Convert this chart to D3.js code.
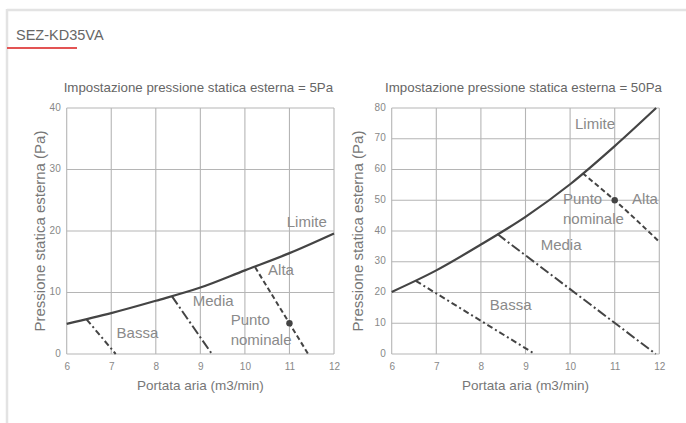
<!DOCTYPE html>
<html>
<head>
<meta charset="UTF-8">
<title>SEZ-KD35VA</title>
<script src="https://cdnjs.cloudflare.com/ajax/libs/d3/7.8.5/d3.min.js"></script>
<style>
  body { margin: 0; background: #fff; }
  svg { display: block; font-family: "Liberation Sans", Arial, sans-serif; }
</style>
</head>
<body>
<div id="chart"></div>
<script>
// Data
var xTicks = [6, 7, 8, 9, 10, 11, 12];
var leftYTicks = [0, 10, 20, 30, 40];
var rightYTicks = [0, 10, 20, 30, 40, 50, 60, 70, 80];

// 5Pa setting
var leftLimite = [[6, 4.9], [7, 6.65], [8, 8.65], [9, 10.8], [10, 13.6], [11, 16.4], [12, 19.6]];
var leftBassa = [[6.45, 5.6], [7.1, 0]];
var leftMedia = [[8.36, 9.4], [9.26, 0]];
var leftAlta = [[10.23, 14.1], [11.42, 0]];
var leftNominal = [11, 5];

// 50Pa setting
var rightLimite = [[6, 20.2], [7, 27.2], [8, 35.6], [9, 44.6], [10, 55.2], [11, 67.6], [11.93, 80]];
var rightBassa = [[6.54, 23.8], [9.21, 0]];
var rightMedia = [[8.37, 39], [11.92, 0]];
var rightAlta = [[10.28, 58.8], [11, 50], [12, 36.5]];
var rightNominal = [11, 50];

// annotations, in data units
var leftNotes = [
  ["Limite", 10.94, 20.7], ["Alta", 10.52, 12.9], ["Media", 8.83, 7.8],
  ["Punto", 9.68, 4.75], ["nominale", 9.68, 1.5], ["Bassa", 7.12, 2.65]
];
var rightNotes = [
  ["Limite", 10.11, 73.1], ["Punto", 9.84, 48.7], ["nominale", 9.84, 42.2],
  ["Alta", 11.39, 48.7], ["Media", 9.34, 33.8], ["Bassa", 8.2, 14.2]
];

var W = 686, H = 423;
var plotTop = 108, plotBottom = 354;

var svg = d3.select("#chart").append("svg")
  .attr("width", W)
  .attr("height", H);

// panel frame
svg.append("line").attr("x1", 7).attr("x2", W).attr("y1", 10).attr("y2", 10)
  .attr("stroke", "#e3e3e3").attr("stroke-width", 2.5);
svg.append("line").attr("x1", 7).attr("x2", 7).attr("y1", 9).attr("y2", H)
  .attr("stroke", "#e3e3e3").attr("stroke-width", 2.5);

svg.append("text")
  .attr("x", 16).attr("y", 40)
  .attr("font-size", "14.5px")
  .attr("fill", "#666")
  .text("SEZ-KD35VA");
svg.append("line").attr("x1", 7).attr("x2", 77).attr("y1", 48).attr("y2", 48)
  .attr("stroke", "#e35454").attr("stroke-width", 2);

drawPanel({
  left: 66.7, right: 334, yMax: 40, yTicks: leftYTicks,
  title: "Impostazione pressione statica esterna = 5Pa",
  ylabX: 40,
  limite: leftLimite, bassa: leftBassa, media: leftMedia, alta: leftAlta,
  nominal: leftNominal, notes: leftNotes
});

drawPanel({
  left: 391.7, right: 659.3, yMax: 80, yTicks: rightYTicks,
  title: "Impostazione pressione statica esterna = 50Pa",
  ylabX: 358,
  limite: rightLimite, bassa: rightBassa, media: rightMedia, alta: rightAlta,
  nominal: rightNominal, notes: rightNotes
});

function drawPanel(p) {
  var x = d3.scaleLinear().domain([6, 12]).range([p.left, p.right]);
  var y = d3.scaleLinear().domain([0, p.yMax]).range([plotBottom, plotTop]);
  var g = svg.append("g");

  // grid
  g.selectAll(".vgrid").data(xTicks).enter().append("line")
    .attr("x1", function(d) { return x(d); })
    .attr("x2", function(d) { return x(d); })
    .attr("y1", plotTop).attr("y2", plotBottom)
    .attr("stroke", "#b5b5b5").attr("stroke-width", 1.1);
  g.selectAll(".hgrid").data(p.yTicks).enter().append("line")
    .attr("x1", p.left).attr("x2", p.right)
    .attr("y1", function(d) { return y(d); })
    .attr("y2", function(d) { return y(d); })
    .attr("stroke", "#b5b5b5").attr("stroke-width", 1.1);

  // axes (labels only, lines come from grid)
  var xAxis = g.append("g")
    .attr("transform", "translate(0," + plotBottom + ")")
    .call(d3.axisBottom(x).tickValues(xTicks).tickFormat(d3.format("d")).tickSize(0).tickPadding(9));
  var yAxis = g.append("g")
    .attr("transform", "translate(" + p.left + ",0)")
    .call(d3.axisLeft(y).tickValues(p.yTicks).tickFormat(d3.format("d")).tickSize(0).tickPadding(6));
  [xAxis, yAxis].forEach(function(a) {
    a.select(".domain").remove();
    a.selectAll("text")
      .attr("fill", "#888")
      .attr("font-size", "10px")
      .attr("font-family", "'Liberation Sans Narrow', 'Arial Narrow', sans-serif");
  });
  yAxis.selectAll("text").attr("dy", "0.2em");

  // titles
  var cx = (p.left + p.right) / 2;
  g.append("text").attr("x", cx - 2).attr("y", 92)
    .attr("text-anchor", "middle").attr("font-size", "13.3px").attr("fill", "#666")
    .text(p.title);
  g.append("text").attr("x", cx).attr("y", 390)
    .attr("text-anchor", "middle").attr("font-size", "13.5px").attr("fill", "#777")
    .text("Portata aria (m3/min)");
  g.append("text")
    .attr("transform", "translate(" + (p.ylabX + 5) + "," + ((plotTop + plotBottom) / 2) + ") rotate(-90)")
    .attr("text-anchor", "middle").attr("font-size", "15px").attr("fill", "#777")
    .text("Pressione statica esterna (Pa)");

  var line = d3.line()
    .x(function(d) { return x(d[0]); })
    .y(function(d) { return y(d[1]); });

  g.append("path").datum(p.limite)
    .attr("d", line.curve(d3.curveMonotoneX))
    .attr("fill", "none").attr("stroke", "#444").attr("stroke-width", 2.2);

  line.curve(d3.curveLinear);
  g.append("path").datum(p.bassa).attr("d", line)
    .attr("fill", "none").attr("stroke", "#444").attr("stroke-width", 2)
    .attr("stroke-dasharray", "6,3,2,3");
  g.append("path").datum(p.media).attr("d", line)
    .attr("fill", "none").attr("stroke", "#444").attr("stroke-width", 2)
    .attr("stroke-dasharray", "10,3,2,3");
  g.append("path").datum(p.alta).attr("d", line.curve(d3.curveMonotoneX))
    .attr("fill", "none").attr("stroke", "#444").attr("stroke-width", 2)
    .attr("stroke-dasharray", "5,3");

  g.append("circle")
    .attr("cx", x(p.nominal[0])).attr("cy", y(p.nominal[1]))
    .attr("r", 3.2).attr("fill", "#444");

  g.selectAll(".note").data(p.notes).enter().append("text")
    .attr("x", function(d) { return x(d[1]); })
    .attr("y", function(d) { return y(d[2]); })
    .attr("font-size", "15px").attr("fill", "#8a8a8a")
    .text(function(d) { return d[0]; });
}
</script>
</body>
</html>
